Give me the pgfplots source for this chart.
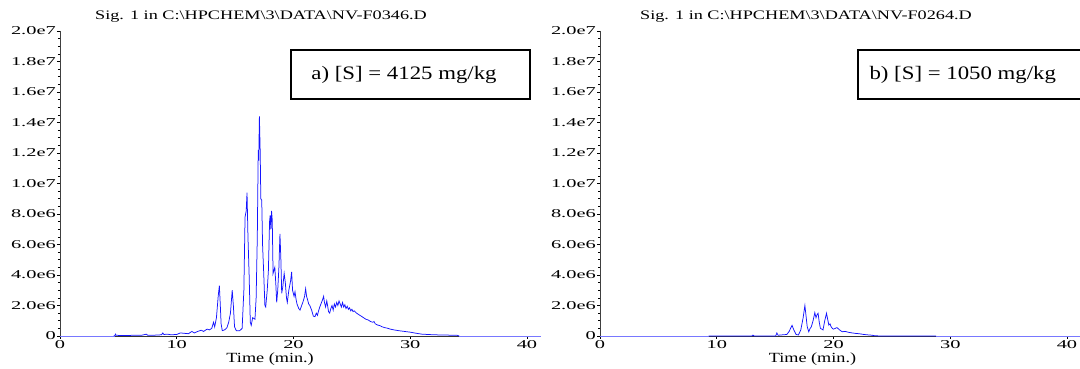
\documentclass[border=0pt]{standalone}
\usepackage{fontspec}
\setmainfont{Liberation Serif}
\usepackage{graphicx}
\usepackage{pgfplots}
\usepackage{pgfplotstable}
\pgfplotsset{compat=1.18}
\newcommand\sx[2][1.7]{\scalebox{#1}[1]{#2}}
\definecolor{sigblue}{RGB}{20,20,255}
\definecolor{lightblue}{RGB}{120,120,255}

\pgfplotstableread{
x y
4.60 0.00
4.70 0.03
4.75 0.12
4.80 0.05
5.00 0.04
6.00 0.04
7.00 0.05
7.40 0.12
7.50 0.05
8.00 0.05
8.70 0.08
8.80 0.20
8.90 0.10
9.20 0.12
9.50 0.08
10.0 0.10
10.3 0.20
10.6 0.18
11.0 0.15
11.3 0.30
11.5 0.20
11.8 0.30
12.1 0.38
12.3 0.30
12.6 0.45
12.8 0.40
13.0 0.50
13.15 0.90
13.25 0.60
13.40 1.20
13.55 2.60
13.65 3.30
13.72 2.20
13.80 0.80
13.90 0.35
14.10 0.40
14.30 0.55
14.45 0.90
14.60 1.50
14.75 3.00
14.85 2.00
14.95 0.60
15.10 0.35
15.40 0.35
15.60 0.50
15.75 3.00
15.85 7.80
15.95 8.20
16.02 9.40
16.10 6.50
16.20 4.00
16.30 0.90
16.38 0.70
16.50 1.20
16.70 1.10
16.80 2.50
16.90 6.50
16.98 12.2
17.02 11.5
17.08 14.4
17.15 12.0
17.20 9.00
17.28 8.90
17.35 6.00
17.45 4.10
17.55 2.00
17.62 1.90
17.75 3.00
17.85 4.30
17.95 7.50
18.00 7.90
18.06 7.00
18.12 8.20
18.18 7.60
18.25 4.10
18.32 4.30
18.40 4.50
18.48 3.50
18.56 2.20
18.65 3.00
18.75 4.50
18.84 6.70
18.92 5.00
18.99 2.80
19.08 3.20
19.20 4.10
19.30 3.50
19.40 2.50
19.47 2.20
19.60 3.00
19.75 3.60
19.84 4.20
19.92 3.00
20.05 2.60
20.13 2.90
20.22 2.40
20.30 2.10
20.45 1.80
20.56 1.70
20.70 2.00
20.84 2.30
20.95 2.60
21.04 3.10
21.12 2.60
21.20 2.40
21.30 2.10
21.40 2.00
21.55 1.70
21.70 1.30
21.84 1.27
21.95 1.50
22.05 1.35
22.13 1.60
22.25 1.90
22.40 2.20
22.50 2.40
22.58 2.60
22.65 2.20
22.75 1.90
22.85 2.30
22.92 2.00
23.00 1.60
23.10 1.50
23.20 1.80
23.30 2.00
23.40 1.70
23.50 2.10
23.60 1.90
23.70 2.20
23.80 2.00
23.90 2.30
24.00 2.10
24.10 1.90
24.20 2.20
24.30 1.90
24.40 2.05
24.50 1.80
24.60 1.95
24.70 1.75
24.80 1.85
24.90 1.65
25.00 1.75
25.10 1.60
25.20 1.65
25.40 1.50
25.60 1.40
25.80 1.30
26.00 1.20
26.20 1.10
26.40 1.05
26.60 0.95
26.80 0.90
26.90 0.95
27.00 0.80
27.20 0.72
27.40 0.68
27.60 0.60
27.80 0.55
28.00 0.52
28.30 0.45
28.60 0.40
29.00 0.35
29.50 0.30
30.00 0.25
30.50 0.18
31.00 0.12
32.00 0.08
33.00 0.06
34.00 0.05
34.20 0.00
}\leftdata

\pgfplotstableread{
x y
9.30 0.00
13.00 0.00
13.10 0.06
13.20 0.00
15.05 0.00
15.15 0.20
15.25 0.05
16.00 0.10
16.20 0.30
16.45 0.70
16.60 0.40
16.80 0.10
17.00 0.07
17.20 0.40
17.40 1.20
17.55 2.00
17.65 1.30
17.75 0.60
17.88 0.28
18.00 0.50
18.10 0.60
18.25 1.00
18.40 1.53
18.50 1.20
18.58 1.38
18.68 1.49
18.78 0.90
18.88 0.50
19.00 0.45
19.10 0.40
19.25 1.00
19.40 1.49
19.50 1.10
19.60 0.72
19.70 0.80
19.80 0.60
19.90 0.50
20.00 0.45
20.15 0.50
20.30 0.55
20.45 0.45
20.60 0.35
20.76 0.28
21.00 0.30
21.30 0.24
21.60 0.20
21.90 0.17
22.20 0.15
22.60 0.10
23.00 0.07
23.30 0.05
23.50 0.02
24.00 0.00
28.80 0.00
}\rightdata

\pgfplotsset{chrom/.style={
  anchor=south west,
  scale only axis, width=481pt, height=305pt,
  xmin=0, xmax=41.2, ymin=0, ymax=20,
  axis lines*=left,
  axis line style={black!75, line width=0.8pt},
  xtick={0,10,20,30,40},
  xticklabels={\sx{0},\sx{10},\sx{20},\sx{30},\sx{40}},
  ytick={0,2,4,6,8,10,12,14,16,18,20},
  yticklabels={\sx{0},\sx{2.0e6},\sx{4.0e6},\sx{6.0e6},\sx{8.0e6},\sx{1.0e7},\sx{1.2e7},\sx{1.4e7},\sx{1.6e7},\sx{1.8e7},\sx{2.0e7}},
  minor y tick num=3,
  tick align=outside,
  major tick length=3pt, minor tick length=2pt,
  tick style={black, line width=0.6pt},
  every tick label/.append style={font=\fontsize{12}{12}\selectfont, inner sep=1pt},
  clip=false,
}}

\begin{document}
\begin{tikzpicture}[x=1pt,y=1pt]
\begin{axis}[chrom, at={(60pt,33pt)}]
\addplot[lightblue, line width=0.9pt] coordinates {(0,0) (41.2,0)};
\addplot[black!80, line width=0.9pt] coordinates {(4.7,0) (34.2,0)};
\addplot[sigblue, line width=0.75pt] table[x=x,y=y] {\leftdata};
\node[font=\fontsize{14}{14}\selectfont] at (axis cs:18,0) [yshift=-23pt] {\sx[1.3]{Time (min.)}};
\end{axis}
\begin{axis}[chrom, at={(600pt,33pt)}]
\addplot[lightblue, line width=0.9pt] coordinates {(0,0) (41.2,0)};
\addplot[black!80, line width=0.9pt] coordinates {(9.3,0) (28.8,0)};
\addplot[sigblue, line width=0.75pt] table[x=x,y=y] {\rightdata};
\node[font=\fontsize{14}{14}\selectfont] at (axis cs:18.2,0) [yshift=-23pt] {\sx[1.3]{Time (min.)}};
\end{axis}
\node[font=\fontsize{13}{13}\selectfont] at (261,352) {\sx[1.4]{Sig. 1 in C:\textbackslash HPCHEM\textbackslash 3\textbackslash DATA\textbackslash NV-F0346.D}};
\node[font=\fontsize{13}{13}\selectfont] at (806,352) {\sx[1.4]{Sig. 1 in C:\textbackslash HPCHEM\textbackslash 3\textbackslash DATA\textbackslash NV-F0264.D}};
\draw[line width=1.5pt] (291,270) rectangle (530,319);
\node[font=\fontsize{19}{19}\selectfont] at (404,294.5) {\sx[1.2]{a) [S] = 4125 mg/kg}};
\draw[line width=1.5pt] (858,270) rectangle (1095,319);
\node[font=\fontsize{19}{19}\selectfont, anchor=west] at (866,294.5) {\sx[1.2]{b) [S] = 1050 mg/kg}};
\pgfresetboundingbox
\path (0,0) rectangle (1080,369);
\end{tikzpicture}
\end{document}
